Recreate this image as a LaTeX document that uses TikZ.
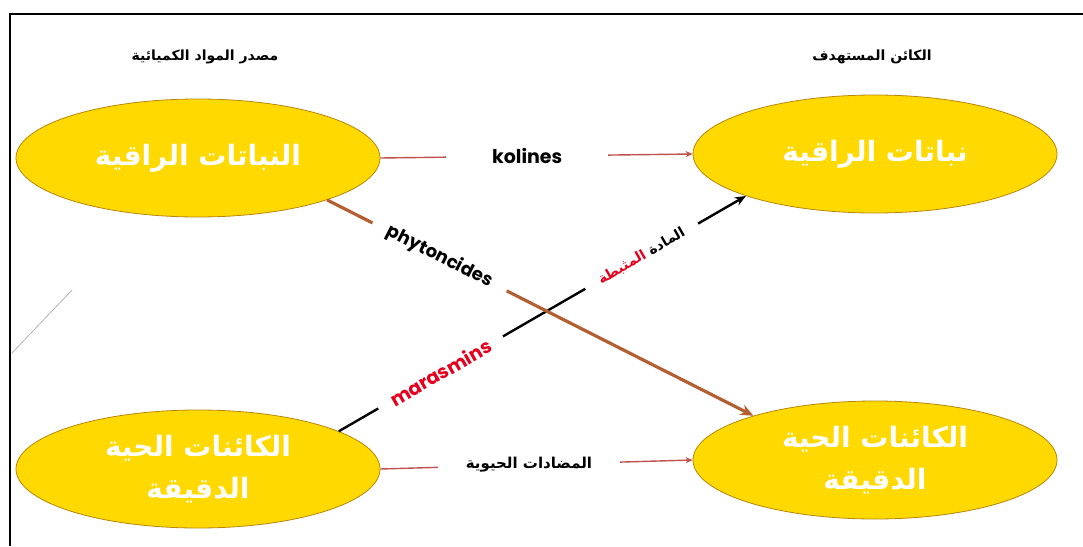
\documentclass[tikz,border=0pt]{standalone}
\usepackage{fontspec}
\usetikzlibrary{shapes.geometric,arrows.meta}
\TeXXeTstate=1
\newfontfamily\arabicfont[Script=Arabic]{DejaVu Sans}
\newfontfamily\latinfont{Poppins}
\definecolor{gold}{RGB}{255,217,0}
\definecolor{goldedge}{RGB}{184,134,11}
\definecolor{brownline}{RGB}{192,80,77}
\definecolor{thickbrown}{RGB}{180,95,50}
\definecolor{labelred}{RGB}{230,0,30}
\begin{document}
\begin{tikzpicture}[x=1pt,y=-1pt,
  blob/.style={ellipse, fill=gold, draw=goldedge, line width=0.8pt,
    minimum width=364pt, minimum height=118pt, inner sep=0pt, text=white,
    font=\arabicfont\bfseries\fontsize{28}{40}\selectfont, align=center},
  header/.style={font=\arabicfont\bfseries\fontsize{14}{16}\selectfont},
  thinlink/.style={draw=brownline, line width=1.4pt, -{Stealth[length=7pt,width=6pt]}},
  thicklink/.style={draw=thickbrown, line width=3.2pt, -{Stealth[length=13pt,width=11pt]}},
  blacklink/.style={draw=black, line width=2.4pt, -{Stealth[length=11pt,width=9pt]}},
  gaplabel/.style={fill=white, inner ysep=1pt}
]
\useasboundingbox (0,0) rectangle (1083,546);
% frame
\draw[line width=2pt] (10,546) -- (10,14) -- (1083,14);
\draw[gray!60, line width=0.8pt] (12,353) -- (72,290);

% headers
\node[header] (h1) at (205,57) {\beginR مصدر المواد الكميائية\endR};
\node[header] (h2) at (872,57) {\beginR الكائن المستهدف\endR};

% ellipses
\node[blob] (tl) at (198,158) {\beginR النباتات الراقية\endR};
\node[blob] (tr) at (875,154) {\beginR نباتات الراقية\endR};
\node[blob] (bl) at (198,469) {\beginR الكائنات الحية\endR\\[2pt]\beginR الدقيقة\endR};
\node[blob] (br) at (875,460) {\beginR الكائنات الحية\endR\\[2pt]\beginR الدقيقة\endR};

% kolines
\draw[thinlink] (tl.east) -- node[gaplabel, pos=0.47, inner xsep=46pt,
  font=\latinfont\bfseries\fontsize{19}{22}\selectfont] (kol) {kolines} (tr.west);

% antibiotics
\draw[thinlink] (bl.east) -- node[gaplabel, pos=0.476, inner xsep=28pt,
  font=\arabicfont\bfseries\fontsize{15}{17}\selectfont] (anti) {\beginR المضادات الحيوية\endR} (br.west);

% marasmins (black)
\draw[blacklink] (bl.15) --
  node[gaplabel, sloped, pos=0.25, inner xsep=15pt,
    font=\latinfont\bfseries\fontsize{19}{21}\selectfont, text=labelred] (mar) {marasmins}
  node[gaplabel, sloped, pos=0.744, inner xsep=16pt,
    font=\arabicfont\bfseries\fontsize{14}{16}\selectfont] (inh)
    {{\color{labelred}\beginR المثبطة\endR} \beginR المادة\endR}
  (tr.198);

% phytoncides (brown)
\draw[thicklink] (tl.-18) --
  node[gaplabel, sloped, pos=0.264, inner xsep=17pt,
    font=\latinfont\bfseries\fontsize{18}{20}\selectfont] (phy) {phytoncides}
  (br.160);
\end{tikzpicture}
\end{document}
